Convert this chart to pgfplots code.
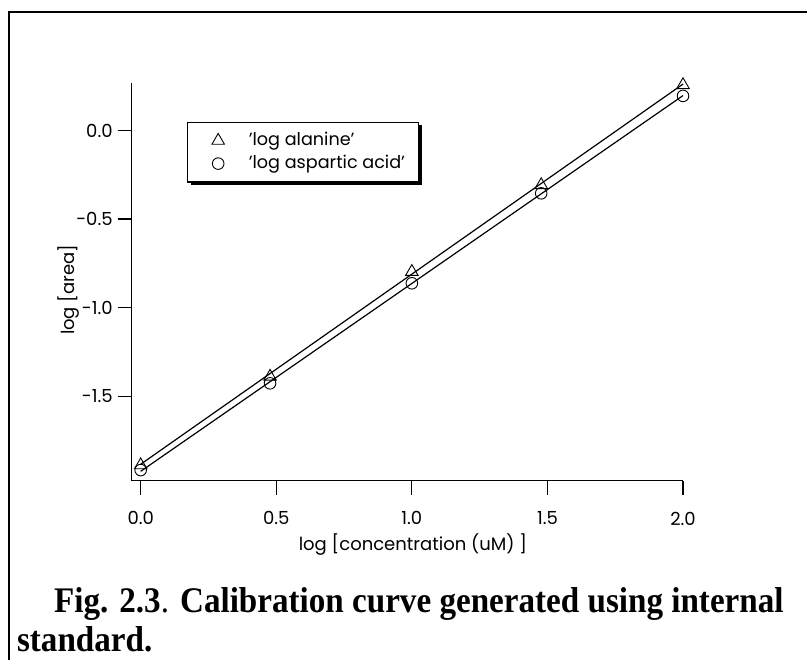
\documentclass[border=0pt]{standalone}
\usepackage{pgfplots}
\pgfplotsset{compat=1.18}
\usepackage{fontspec}
\setmainfont{Poppins}
\newfontfamily\capfont[FakeStretch=0.92]{Liberation Serif}
\usetikzlibrary{shadows}
\pgfplotsset{mylegimg/.style={legend image code/.code={\path (0pt,-3pt) (24pt,3pt); \draw[##1] plot coordinates {(12pt,0pt)};}}}
\begin{document}
\begin{tikzpicture}[x=0.5pt,y=0.5pt]
\useasboundingbox (0,0) rectangle (807,660);
\draw[line width=0.7pt] (9,0) -- (9,648) -- (807,648);
\begin{axis}[
  at={(65.85pt,89.65pt)}, anchor=south west,
  scale only axis, width=275.65pt, height=198.85pt,
  xmin=-0.0332, xmax=2, ymin=-1.978, ymax=0.268,
  axis lines=left, axis line style={-, line width=0.55pt},
  tick align=outside, major tick length=7pt,
  tick style={line width=0.55pt, black},
  xtick={0,0.5,1,1.5,2}, xticklabels={0.0,0.5,1.0,1.5,2.0},
  ytick={-1.5,-1,-0.5,0}, yticklabels={-1.5,-1.0,-0.5,0.0},
  tick label style={font=\fontsize{9}{10}\selectfont},
  xticklabel style={yshift=-5pt},
  yticklabel style={xshift=1pt},
  label style={font=\fontsize{9}{10}\selectfont},
  xlabel={log [concentration (uM) ]}, ylabel={log [area]},
  xlabel style={at={(axis description cs:0.51,0)}, anchor=center, yshift=-32pt},
  ylabel style={at={(axis description cs:-0.1155,0.48)}, anchor=center},
  clip=false,
  legend style={at={(0.1003,0.9027)}, anchor=north west, draw=black, line width=0.6pt,
    fill=white, drop shadow={shadow xshift=1.5pt, shadow yshift=-1.5pt, opacity=1, fill=black},
    font=\fontsize{8.8}{10}\selectfont, inner xsep=3pt, inner ysep=4.9pt, row sep=3pt,
    column sep=3pt, nodes={inner sep=0pt, text height=6.5pt, text depth=2pt}},
  legend cell align=left,
]
\addplot[black, line width=0.6pt, forget plot] coordinates {(0,-1.885) (2,0.262)};
\addplot[black, line width=0.6pt, forget plot] coordinates {(0,-1.925) (2,0.197)};
\addplot[only marks, mark=triangle, mark size=3.6pt, mark options={line width=0.45pt, black}, mylegimg] coordinates {
(0,-1.89) (0.477,-1.39) (1,-0.798) (1.477,-0.308) (2,0.257)};
\addlegendentry{\makebox[82pt][l]{'log alanine'}}
\addplot[only marks, mark=o, mark size=2.9pt, mark options={line width=0.45pt, black}, mylegimg] coordinates {
(0,-1.918) (0.477,-1.428) (1,-0.863) (1.477,-0.355) (2,0.195)};
\addlegendentry{\makebox[82pt][l]{'log aspartic acid'}}
\end{axis}
\node[anchor=base west, font=\capfont\fontsize{18}{20}\selectfont] at (47,48)
  {\textbf{Fig. 2.3}. \textbf{Calibration curve generated using internal}};
\node[anchor=base west, font=\capfont\fontsize{18}{20}\selectfont] at (10,9)
  {\textbf{standard.}};
\end{tikzpicture}
\end{document}
